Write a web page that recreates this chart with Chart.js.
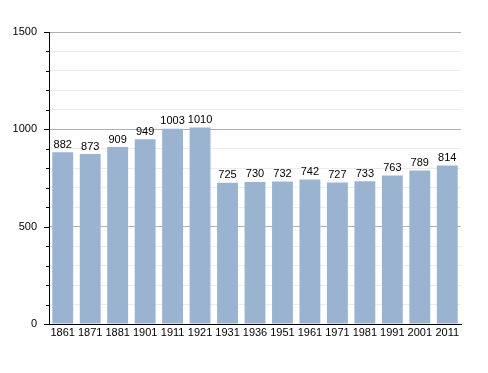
<!DOCTYPE html>
<html lang="en">
<head>
<meta charset="UTF-8">
<title>Population</title>
<script src="https://cdn.jsdelivr.net/npm/chart.js@4.4.1/dist/chart.umd.min.js"></script>
<style>
  html, body { margin: 0; padding: 0; background: #fff; }
  .wrapper { width: 488px; height: 373px; }
</style>
</head>
<body>
<div class="wrapper"><canvas id="myChart" width="488" height="373"></canvas></div>
<script>
// years and population counts
var years = ["1861", "1871", "1881", "1901", "1911", "1921", "1931", "1936", "1951", "1961", "1971", "1981", "1991", "2001", "2011"];
var population = [882, 873, 909, 949, 1003, 1010, 725, 730, 732, 742, 727, 733, 763, 789, 814];
var yTicks = [0, 500, 1000, 1500];

var FONT = "'Liberation Sans', Arial, sans-serif";

// little tick marks on the left of the y axis (long ones at 500s)
var axisTicks = {
  id: 'axisTicks',
  afterDraw: function (chart) {
    var y = chart.scales.y, ctx = chart.ctx;
    ctx.save();
    ctx.strokeStyle = '#000';
    ctx.lineWidth = 1;
    y.ticks.forEach(function (t) {
      var py = Math.round(y.getPixelForValue(t.value)) + 0.5;
      var len = yTicks.indexOf(t.value) >= 0 ? 5 : 3;
      ctx.beginPath();
      ctx.moveTo(y.right - len, py);
      ctx.lineTo(y.right, py);
      ctx.stroke();
    });
    ctx.restore();
  }
};

// value above each bar
var barLabels = {
  id: 'barLabels',
  afterDatasetsDraw: function (chart) {
    var ctx = chart.ctx;
    var meta = chart.getDatasetMeta(0);
    ctx.save();
    ctx.fillStyle = '#000';
    ctx.font = '11px ' + FONT;
    ctx.textAlign = 'center';
    ctx.textBaseline = 'bottom';
    meta.data.forEach(function (bar, i) {
      ctx.fillText(population[i], bar.x, bar.y - 2);
    });
    ctx.restore();
  }
};

var ctx = document.getElementById('myChart').getContext('2d');
var chart = new Chart(ctx, {
  type: 'bar',
  data: {
    labels: years,
    datasets: [{
      data: population,
      backgroundColor: '#9ab3d0',
      borderWidth: 0,
      barPercentage: 0.76,
      categoryPercentage: 1
    }]
  },
  options: {
    responsive: false,
    animation: false,
    layout: { padding: { top: 32, right: 27, left: 0, bottom: 0 } },
    plugins: { legend: { display: false }, tooltip: { enabled: false } },
    scales: {
      x: {
        grid: { display: false, drawTicks: false },
        border: { display: true, color: '#000', width: 1 },
        ticks: { color: '#000', font: { family: FONT, size: 11 }, padding: 2, maxRotation: 0, autoSkip: false },
        afterFit: function (s) { s.height = 49; }
      },
      y: {
        min: 0,
        max: 1500,
        ticks: {
          stepSize: 100,
          color: '#000',
          font: { family: FONT, size: 11 },
          padding: 12,
          callback: function (v) { return yTicks.indexOf(v) >= 0 ? v : ''; }
        },
        grid: {
          drawTicks: false,
          color: function (c) { return yTicks.indexOf(c.tick.value) >= 0 ? '#b0b0b0' : '#ebebeb'; }
        },
        border: { display: true, color: '#000', width: 1 },
        afterFit: function (s) { s.width = 49; }
      }
    }
  },
  plugins: [axisTicks, barLabels]
});
</script>
</body>
</html>
